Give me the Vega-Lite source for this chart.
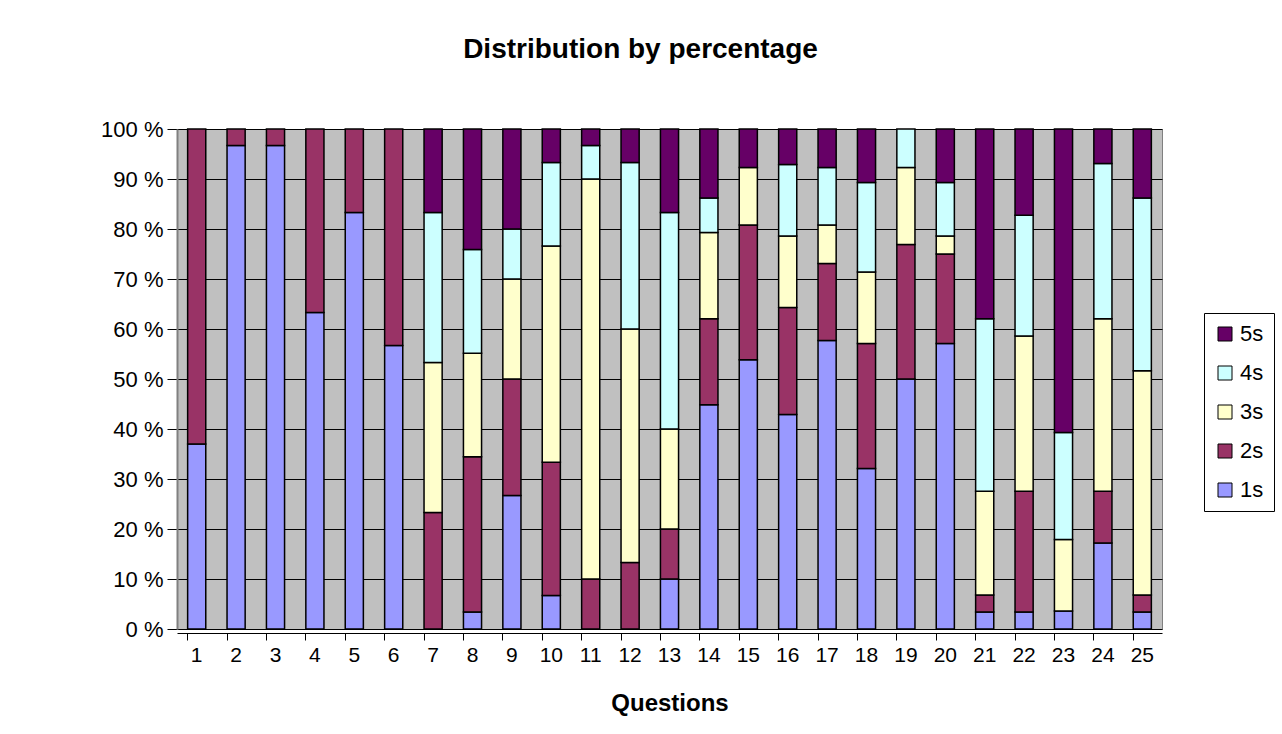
{
  "$schema": "https://vega.github.io/schema/vega-lite/v6.json",
  "width": 985,
  "height": 500,
  "autosize": {"type": "none"},
  "padding": {"left": 177, "top": 129, "right": 120, "bottom": 105},
  "background": "white",
  "config": {
    "font": "Liberation Sans",
    "view": {"fill": "#C0C0C0", "stroke": "#808080", "strokeWidth": 1}
  },
  "title": {
    "text": "Distribution by percentage",
    "fontSize": 28,
    "fontWeight": "bold",
    "color": "#000000",
    "font": "Liberation Sans",
    "anchor": "middle",
    "baseline": "alphabetic",
    "dx": -29,
    "offset": 32
  },
  "data": {
    "values": [
      {"q": 1, "s": "1s", "p": 37.0}, {"q": 1, "s": "2s", "p": 63.0},
      {"q": 2, "s": "1s", "p": 96.7}, {"q": 2, "s": "2s", "p": 3.3},
      {"q": 3, "s": "1s", "p": 96.7}, {"q": 3, "s": "2s", "p": 3.3},
      {"q": 4, "s": "1s", "p": 63.3}, {"q": 4, "s": "2s", "p": 36.7},
      {"q": 5, "s": "1s", "p": 83.3}, {"q": 5, "s": "2s", "p": 16.7},
      {"q": 6, "s": "1s", "p": 56.7}, {"q": 6, "s": "2s", "p": 43.3},
      {"q": 7, "s": "2s", "p": 23.3}, {"q": 7, "s": "3s", "p": 30.0}, {"q": 7, "s": "4s", "p": 30.0}, {"q": 7, "s": "5s", "p": 16.7},
      {"q": 8, "s": "1s", "p": 3.4}, {"q": 8, "s": "2s", "p": 31.0}, {"q": 8, "s": "3s", "p": 20.7}, {"q": 8, "s": "4s", "p": 20.7}, {"q": 8, "s": "5s", "p": 24.1},
      {"q": 9, "s": "1s", "p": 26.7}, {"q": 9, "s": "2s", "p": 23.3}, {"q": 9, "s": "3s", "p": 20.0}, {"q": 9, "s": "4s", "p": 10.0}, {"q": 9, "s": "5s", "p": 20.0},
      {"q": 10, "s": "1s", "p": 6.7}, {"q": 10, "s": "2s", "p": 26.7}, {"q": 10, "s": "3s", "p": 43.3}, {"q": 10, "s": "4s", "p": 16.7}, {"q": 10, "s": "5s", "p": 6.7},
      {"q": 11, "s": "2s", "p": 10.0}, {"q": 11, "s": "3s", "p": 80.0}, {"q": 11, "s": "4s", "p": 6.7}, {"q": 11, "s": "5s", "p": 3.3},
      {"q": 12, "s": "2s", "p": 13.3}, {"q": 12, "s": "3s", "p": 46.7}, {"q": 12, "s": "4s", "p": 33.3}, {"q": 12, "s": "5s", "p": 6.7},
      {"q": 13, "s": "1s", "p": 10.0}, {"q": 13, "s": "2s", "p": 10.0}, {"q": 13, "s": "3s", "p": 20.0}, {"q": 13, "s": "4s", "p": 43.3}, {"q": 13, "s": "5s", "p": 16.7},
      {"q": 14, "s": "1s", "p": 44.8}, {"q": 14, "s": "2s", "p": 17.2}, {"q": 14, "s": "3s", "p": 17.2}, {"q": 14, "s": "4s", "p": 6.9}, {"q": 14, "s": "5s", "p": 13.8},
      {"q": 15, "s": "1s", "p": 53.8}, {"q": 15, "s": "2s", "p": 26.9}, {"q": 15, "s": "3s", "p": 11.5}, {"q": 15, "s": "5s", "p": 7.7},
      {"q": 16, "s": "1s", "p": 42.9}, {"q": 16, "s": "2s", "p": 21.4}, {"q": 16, "s": "3s", "p": 14.3}, {"q": 16, "s": "4s", "p": 14.3}, {"q": 16, "s": "5s", "p": 7.1},
      {"q": 17, "s": "1s", "p": 57.7}, {"q": 17, "s": "2s", "p": 15.4}, {"q": 17, "s": "3s", "p": 7.7}, {"q": 17, "s": "4s", "p": 11.5}, {"q": 17, "s": "5s", "p": 7.7},
      {"q": 18, "s": "1s", "p": 32.1}, {"q": 18, "s": "2s", "p": 25.0}, {"q": 18, "s": "3s", "p": 14.3}, {"q": 18, "s": "4s", "p": 17.9}, {"q": 18, "s": "5s", "p": 10.7},
      {"q": 19, "s": "1s", "p": 50.0}, {"q": 19, "s": "2s", "p": 26.9}, {"q": 19, "s": "3s", "p": 15.4}, {"q": 19, "s": "4s", "p": 7.7},
      {"q": 20, "s": "1s", "p": 57.1}, {"q": 20, "s": "2s", "p": 17.9}, {"q": 20, "s": "3s", "p": 3.6}, {"q": 20, "s": "4s", "p": 10.7}, {"q": 20, "s": "5s", "p": 10.7},
      {"q": 21, "s": "1s", "p": 3.4}, {"q": 21, "s": "2s", "p": 3.4}, {"q": 21, "s": "3s", "p": 20.7}, {"q": 21, "s": "4s", "p": 34.5}, {"q": 21, "s": "5s", "p": 37.9},
      {"q": 22, "s": "1s", "p": 3.4}, {"q": 22, "s": "2s", "p": 24.1}, {"q": 22, "s": "3s", "p": 31.0}, {"q": 22, "s": "4s", "p": 24.1}, {"q": 22, "s": "5s", "p": 17.2},
      {"q": 23, "s": "1s", "p": 3.6}, {"q": 23, "s": "3s", "p": 14.3}, {"q": 23, "s": "4s", "p": 21.4}, {"q": 23, "s": "5s", "p": 60.7},
      {"q": 24, "s": "1s", "p": 17.2}, {"q": 24, "s": "2s", "p": 10.3}, {"q": 24, "s": "3s", "p": 34.5}, {"q": 24, "s": "4s", "p": 31.0}, {"q": 24, "s": "5s", "p": 6.9},
      {"q": 25, "s": "1s", "p": 3.4}, {"q": 25, "s": "2s", "p": 3.4}, {"q": 25, "s": "3s", "p": 44.8}, {"q": 25, "s": "4s", "p": 34.5}, {"q": 25, "s": "5s", "p": 13.8}
    ]
  },
  "mark": {"type": "bar", "stroke": "#000000", "strokeWidth": 1.5},
  "encoding": {
    "x": {
      "field": "q",
      "type": "ordinal",
      "scale": {"paddingInner": 0.54, "paddingOuter": 0.27},
      "axis": {
        "title": "Questions",
        "titleFontSize": 24,
        "titleFontWeight": "bold",
        "titleColor": "#000000",
        "titlePadding": 26,
        "labelAngle": 0,
        "labelFontSize": 21,
        "labelColor": "#000000",
        "labelPadding": 4,
        "domainColor": "#000000",
        "domainWidth": 1,
        "offset": 4,
        "ticks": true,
        "tickColor": "#000000",
        "tickSize": 7,
        "bandPosition": 0,
        "grid": false
      }
    },
    "y": {
      "field": "p",
      "type": "quantitative",
      "stack": "normalize",
      "scale": {"domain": [0, 1]},
      "axis": {
        "title": null,
        "values": [0, 0.1, 0.2, 0.3, 0.4, 0.5, 0.6, 0.7, 0.8, 0.9, 1],
        "labelExpr": "format(datum.value * 100, 'd') + ' %'",
        "labelFontSize": 22,
        "labelColor": "#000000",
        "labelPadding": 4,
        "tickColor": "#000000",
        "tickSize": 10,
        "domainColor": "#808080",
        "domainWidth": 2,
        "grid": true,
        "gridColor": "#000000",
        "gridWidth": 1
      }
    },
    "color": {
      "field": "s",
      "type": "nominal",
      "scale": {
        "domain": ["5s", "4s", "3s", "2s", "1s"],
        "range": ["#660066", "#CCFFFF", "#FFFFCC", "#993366", "#9999FF"]
      },
      "legend": {
        "title": null,
        "orient": "none",
        "legendX": 1027,
        "legendY": 184,
        "symbolType": "square",
        "symbolSize": 196,
        "symbolStrokeColor": "#000000",
        "symbolStrokeWidth": 1,
        "symbolOpacity": 1,
        "labelFontSize": 22,
        "labelColor": "#000000",
        "labelOffset": 4,
        "rowPadding": 17,
        "padding": 10,
        "strokeColor": "#000000",
        "fillColor": "#FFFFFF"
      }
    },
    "order": {"field": "s", "sort": "ascending"}
  }
}
